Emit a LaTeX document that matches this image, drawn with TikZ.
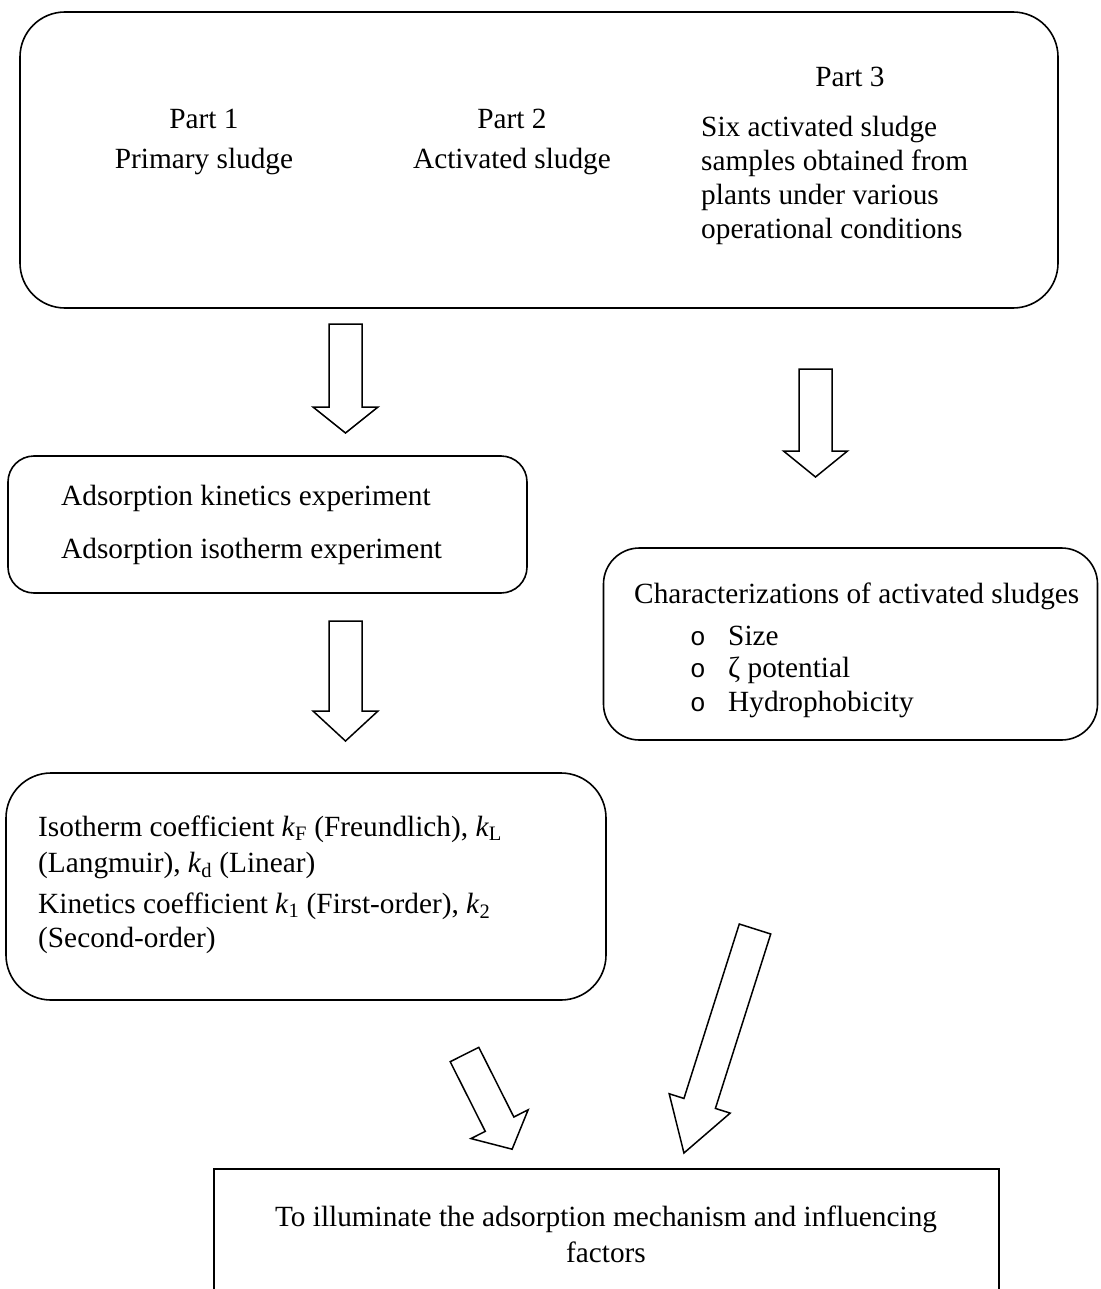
\documentclass[tikz,border=0pt]{standalone}
\usepackage{fontspec}
\setmainfont{Liberation Serif}
\newfontfamily\bulletfont{Liberation Mono}
\newcommand{\BlkArrow}[6]{%
  \begin{scope}[shift={#1}, rotate=#2]
    \draw[blkline] (0,#4) -- ({#3-#5},#4) -- ({#3-#5},#6) -- (#3,0)
      -- ({#3-#5},-#6) -- ({#3-#5},-#4) -- (0,-#4) -- cycle;
  \end{scope}}
\begin{document}
\begin{tikzpicture}[x=1pt,y=-1pt,
  box/.style={draw, line width=1.6pt, rounded corners=#1, inner sep=0pt},
  sqbox/.style={draw, line width=1.6pt, inner sep=0pt},
  blkline/.style={draw, line width=1.5pt, line join=miter, fill=white},
  txt/.style={inner sep=0pt, font=\fontsize{29.3}{34}\selectfont},
  bul/.style={inner sep=0pt, font=\bulletfont\fontsize{26}{30}\selectfont}]
\useasboundingbox (0,0) rectangle (1100,1289);

% ---------- top box ----------
\node[box=45, minimum width=1038pt, minimum height=296pt] (top) at (539,160) {};
\node[txt, anchor=base] (p1) at (204,129) {Part 1};
\node[txt, anchor=base] (p1b) at (204,169) {Primary sludge};
\node[txt, anchor=base] (p2) at (512,129) {Part 2};
\node[txt, anchor=base] (p2b) at (512,169) {Activated sludge};
\node[txt, anchor=base] (p3) at (850,87) {Part 3};
\node[txt, anchor=base west] (p3a) at (701,137) {Six activated sludge};
\node[txt, anchor=base west] (p3b) at (701,171) {samples obtained from};
\node[txt, anchor=base west] (p3c) at (701,205) {plants under various};
\node[txt, anchor=base west] (p3d) at (701,239) {operational conditions};

% ---------- experiments box ----------
\node[box=26, minimum width=519pt, minimum height=137pt] (exp) at (267.5,524.5) {};
\node[txt, anchor=base west] (e1) at (61,505) {Adsorption kinetics experiment};
\node[txt, anchor=base west] (e2) at (61,558) {Adsorption isotherm experiment};

% ---------- characterization box ----------
\node[box=36, minimum width=494pt, minimum height=192pt] (chr) at (850.5,644) {};
\node[txt, anchor=base west] (c0) at (634,603) {Characterizations of activated sludges};
\node[bul, anchor=base] (b1) at (698,645) {o};
\node[bul, anchor=base] (b2) at (698,677) {o};
\node[bul, anchor=base] (b3) at (698,711) {o};
\node[txt, anchor=base west] (c1) at (728,645) {Size};
\node[txt, anchor=base west] (c2) at (728,677) {ζ potential};
\node[txt, anchor=base west] (c3) at (728,711) {Hydrophobicity};

% ---------- coefficients box ----------
\node[box=45, minimum width=600pt, minimum height=227pt] (coef) at (306,886.5) {};
\node[txt, anchor=base west] (k1) at (38,836) {Isotherm coefficient \textit{k}\textsubscript{F} (Freundlich), \textit{k}\textsubscript{L}};
\node[txt, anchor=base west] (k2) at (38,872) {(Langmuir), \textit{k}\textsubscript{d} (Linear)};
\node[txt, anchor=base west] (k3) at (38,913) {Kinetics coefficient \textit{k}\textsubscript{1} (First-order), \textit{k}\textsubscript{2}};
\node[txt, anchor=base west] (k4) at (38,947) {(Second-order)};

% ---------- final box ----------
\node[sqbox, minimum width=785pt, minimum height=130pt] (fin) at (606.5,1234) {};
\node[txt, anchor=base] (f1) at (606,1226) {To illuminate the adsorption mechanism and influencing};
\node[txt, anchor=base] (f2) at (606,1262) {factors};

% ---------- block arrows ----------
\coordinate (a1) at (345.5,324);
\coordinate (a2) at (815.5,369);
\coordinate (a3) at (345.5,621);
\coordinate (a4) at (464.5,1054.5);
\coordinate (a5) at (755,929);
\BlkArrow{(a1)}{-90}{109}{16.5}{26}{32.5}
\BlkArrow{(a2)}{-90}{108}{16.5}{26}{32}
\BlkArrow{(a3)}{-90}{120}{16.5}{30}{32.5}
\BlkArrow{(a4)}{-63.3}{106}{16}{28}{32}
\BlkArrow{(a5)}{-107.6}{235}{16.5}{52}{32}
\end{tikzpicture}
\end{document}
